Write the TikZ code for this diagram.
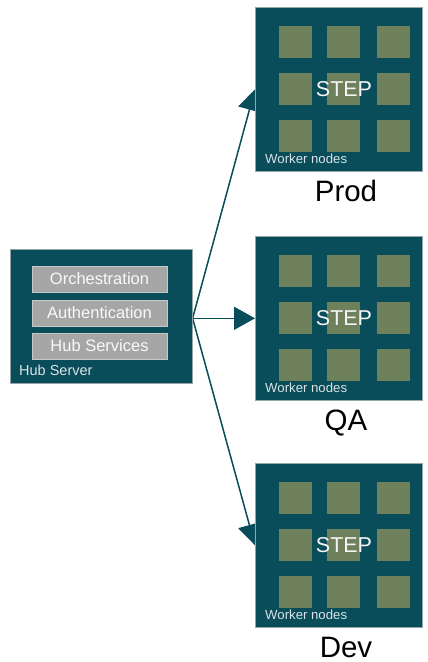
\documentclass[tikz,border=0pt]{standalone}
\usepackage{fontspec}
\setmainfont{Liberation Sans}
\usetikzlibrary{arrows.meta}
\definecolor{teal1}{RGB}{9,76,90}
\definecolor{green1}{RGB}{110,128,92}
\definecolor{gray1}{RGB}{166,166,166}
\definecolor{gray2}{RGB}{200,200,200}
\definecolor{edge1}{RGB}{150,165,170}
\begin{document}
\begin{tikzpicture}[x=1pt,y=-1pt,
  envbox/.style={rectangle, fill=teal1, draw=edge1, line width=0.6pt, minimum width=167pt, minimum height=164pt, inner sep=0pt, anchor=north west},
  hubbox/.style={rectangle, fill=teal1, draw=edge1, line width=0.6pt, minimum width=182pt, minimum height=134pt, inner sep=0pt, anchor=north west},
  sq/.style={rectangle, fill=green1, minimum width=33pt, minimum height=32pt, inner sep=0pt},
  svc/.style={rectangle, fill=gray1, draw=gray2, line width=0.6pt, minimum width=135pt, minimum height=26pt, inner sep=0pt, text=white!95!gray, font=\fontsize{16.5}{18}\selectfont},
  steptext/.style={text=white!92!gray, inner sep=0pt, font=\fontsize{21.5}{24}\selectfont},
  worker/.style={text=white!85!teal1, inner sep=0pt, font=\fontsize{13.2}{15}\selectfont},
  envlabel/.style={text=black, inner sep=0pt, font=\fontsize{29.5}{34}\selectfont},
  conn/.style={draw=teal1, line width=1.5pt, -{Triangle[length=21pt,width=23pt]}}
]
\useasboundingbox (0,0) rectangle (428,662);
\fill[white] (0,0) rectangle (428,662);

% Hub server
\node[hubbox] (hub) at (10,249) {};
\coordinate (hubout) at ([yshift=-2pt]hub.east);

% environment boxes (placed before arrows so anchors exist)
\foreach \nm/\tp/\lab in {prod/7/Prod, qa/236/QA, dev/463/Dev} {
  \node[envbox] (\nm) at (255,\tp) {};
}

% connectors
\draw[conn] (hubout) -- (prod.west);
\draw[conn] (hubout) -- (qa.west);
\draw[conn] (hubout) -- (dev.west);

% redraw boxes on top
\foreach \nm/\tp/\lab in {prod/7/Prod, qa/236/QA, dev/463/Dev} {
  \node[envbox] (\nm-bg) at (255,\tp) {};
  \foreach \cx [count=\i] in {295,343.5,393} {
    \foreach \ry [count=\j] in {35,82,129} {
      \node[sq] (\nm-sq-\i-\j) at (\cx,\tp+\ry) {};
    }
  }
  \node[steptext] (\nm-step) at (344,\tp+82) {STEP};
  \node[worker, anchor=base west] (\nm-workers) at (265,\tp+156) {Worker nodes};
  \node[envlabel, anchor=base] (\nm-label) at (346,\tp+194) {\lab};
}

% hub contents (on top)
\node[hubbox] (hub-bg) at (10,249) {};
\node[svc] (orch) at (99.5,279) {Orchestration};
\node[svc] (auth) at (99.5,313) {Authentication};
\node[svc] (hubsvc) at (99.5,346) {Hub Services};
\node[worker, anchor=base west, font=\fontsize{14.5}{16}\selectfont] (hublabel) at (19,375) {Hub Server};
\end{tikzpicture}
\end{document}
